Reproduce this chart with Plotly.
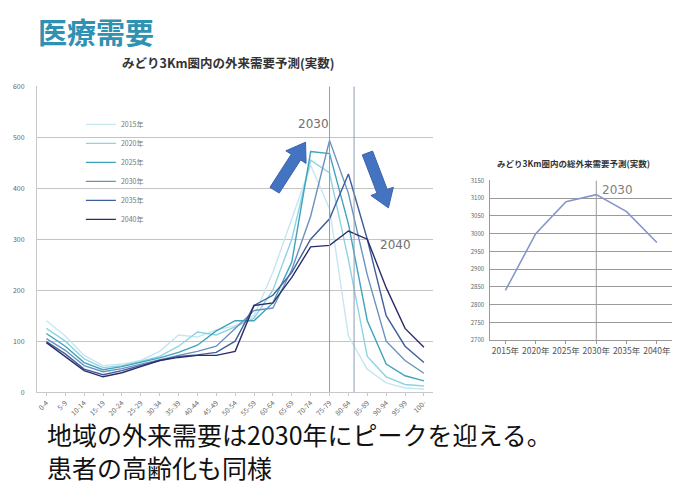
import math
import plotly.graph_objects as go

W, H = 677, 498

# Age bands (5-year) for the outpatient demand projection
ages = ["0-4", "5-9", "10-14", "15-19", "20-24", "25-29", "30-34", "35-39",
        "40-44", "45-49", "50-54", "55-59", "60-64", "65-69", "70-74",
        "75-79", "80-84", "85-89", "90-94", "95-99", "100-"]

years = ["2015年", "2020年", "2025年", "2030年", "2035年", "2040年"]

demand_2015 = [140, 110, 72, 52, 55, 62, 80, 112, 108, 122, 130, 150, 235, 340, 445, 360, 110, 45, 18, 8, 6]
demand_2020 = [125, 100, 65, 48, 52, 60, 70, 90, 118, 112, 128, 145, 200, 300, 455, 430, 260, 70, 30, 15, 12]
demand_2025 = [115, 90, 58, 44, 50, 58, 67, 78, 92, 120, 140, 140, 175, 255, 472, 468, 330, 140, 55, 32, 22]
demand_2030 = [105, 82, 52, 40, 46, 55, 64, 72, 80, 90, 125, 160, 165, 240, 345, 494, 390, 230, 100, 62, 37]
demand_2035 = [99, 75, 45, 34, 42, 52, 62, 70, 73, 78, 100, 170, 190, 235, 300, 340, 428, 300, 150, 90, 58]
demand_2040 = [97, 70, 42, 30, 38, 50, 62, 68, 72, 72, 80, 170, 175, 225, 285, 288, 316, 300, 205, 125, 88]

series = [demand_2015, demand_2020, demand_2025, demand_2030, demand_2035, demand_2040]
colors = ["#c6e6f0", "#8fd3e3", "#3fa3bd", "#6a92bd", "#3f5f9c", "#2a2c6b"]

# Total outpatient demand by projection year
total_years = ["2015年", "2020年", "2025年", "2030年", "2035年", "2040年"]
total_demand = [2840, 3000, 3090, 3110, 3062, 2975]

main_ticks = [0, 100, 200, 300, 400, 500, 600]
side_ticks = [2700, 2750, 2800, 2850, 2900, 2950, 3000, 3050, 3100, 3150]


def px(x):
    return x / W


def py(y):
    return 1 - y / H


fig = go.Figure()

for name, vals, col in zip(years, series, colors):
    fig.add_trace(go.Scatter(
        x=list(range(len(ages))), y=vals, name=name, mode="lines",
        line=dict(color=col, width=1.4), xaxis="x", yaxis="y",
    ))

fig.add_trace(go.Scatter(
    x=list(range(len(total_years))), y=total_demand, mode="lines",
    line=dict(color="#8596cc", width=1.6), xaxis="x2", yaxis="y2",
    showlegend=False,
))

tick_font = dict(family="Noto Sans CJK JP", size=7, color="#666666")

fig.update_layout(
    width=W, height=H,
    margin=dict(l=0, r=0, t=0, b=0),
    paper_bgcolor="white", plot_bgcolor="white",
    showlegend=True,
    legend=dict(
        x=px(80), y=py(106), xanchor="left", yanchor="top",
        font=dict(family="Noto Sans CJK JP", size=7, color="#777777"),
        bgcolor="rgba(0,0,0,0)", itemwidth=30, tracegroupgap=0,
    ),
    xaxis=dict(
        domain=[px(36), px(433)], range=[-0.5, len(ages) - 0.5],
        tickmode="array", tickvals=list(range(len(ages))), ticktext=ages,
        tickangle=-45, tickfont=tick_font, showgrid=False, zeroline=False,
        showline=True, linecolor="#c8c8c8", ticks="outside", ticklen=3,
        tickcolor="#c8c8c8", anchor="y",
    ),
    yaxis=dict(
        domain=[py(394), py(82)], range=[0, 600], tickvals=main_ticks,
        tickfont=tick_font, showgrid=True, gridcolor="#c4c4c4", gridwidth=1,
        zeroline=False, showline=True, linecolor="#c8c8c8",
        ticklabelstandoff=10, anchor="x",
    ),
    xaxis2=dict(
        domain=[px(490), px(672)], range=[-0.5, len(total_years) - 0.5],
        tickmode="array", tickvals=list(range(len(total_years))), ticktext=total_years,
        tickfont=dict(family="Noto Sans CJK JP", size=8.5, color="#555555"),
        showgrid=False, zeroline=False, showline=True, linecolor="#999999",
        ticks="outside", ticklen=3, tickcolor="#999999", anchor="y2",
    ),
    yaxis2=dict(
        domain=[py(341), py(178)], range=[2700, 3150], tickvals=side_ticks,
        tickfont=dict(family="Noto Sans CJK JP", size=6, color="#666666"),
        showgrid=True, gridcolor="#9a9a9a", gridwidth=1, zeroline=False,
        showline=True, linecolor="#999999", ticklabelstandoff=4, anchor="x2",
    ),
)

shapes = []
# Reference lines on the age axis
for xv in [15, 16.3]:
    shapes.append(dict(type="line", xref="x", yref="y", x0=xv, x1=xv, y0=0, y1=600,
                       line=dict(color="#8d9db3", width=1)))
# Peak year marker on the total chart
shapes.append(dict(type="line", xref="x2", yref="y2", x0=3, x1=3, y0=2700, y1=3150,
                   line=dict(color="#9a9a9a", width=1)))


def arrow_path(tx, ty, hx, hy, shaft=11, head=24, head_len=18):
    dx, dy = hx - tx, hy - ty
    L = math.hypot(dx, dy)
    ux, uy = dx / L, dy / L
    nx, ny = -uy, ux
    bx, by = hx - ux * head_len, hy - uy * head_len
    pts = [
        (tx + nx * shaft / 2, ty + ny * shaft / 2),
        (bx + nx * shaft / 2, by + ny * shaft / 2),
        (bx + nx * head / 2, by + ny * head / 2),
        (hx, hy),
        (bx - nx * head / 2, by - ny * head / 2),
        (bx - nx * shaft / 2, by - ny * shaft / 2),
        (tx - nx * shaft / 2, ty - ny * shaft / 2),
    ]
    return "M " + " L ".join(f"{px(a):.5f},{py(b):.5f}" for a, b in pts) + " Z"


for t, h in [((274, 188), (305, 139)), ((367, 150), (388, 206))]:
    shapes.append(dict(type="path", xref="paper", yref="paper",
                       path=arrow_path(t[0], t[1], h[0], h[1]),
                       fillcolor="#4473c2", line=dict(color="#3a63aa", width=1)))

fig.update_layout(shapes=shapes)


def note(text, x, y, size, color, family="Noto Sans CJK JP", anchor="center"):
    return dict(text=text, x=px(x), y=py(y), xref="paper", yref="paper",
                xanchor=anchor, yanchor="middle", showarrow=False,
                font=dict(family=family, size=size, color=color))


ann = [
    note("<b>医療需要</b>", 35, 26, 29, "#2f92b3", anchor="left"),
    note("<b>みどり3Km圏内の外来需要予測(実数)</b>", 227, 58, 12.5, "#333333"),
    note("<b>みどり3Km圏内の総外来需要予測(実数)</b>", 573, 160, 8.5, "#333333"),
    note("2030", 313, 120, 12, "#707070", family="DejaVu Sans"),
    note("2040", 395, 244, 12, "#707070", family="DejaVu Sans"),
    note("2030", 617, 188, 12, "#808080", family="DejaVu Sans"),
    note("地域の外来需要は2030年にピークを迎える。", 44, 437, 25, "#111111", anchor="left"),
    note("患者の高齢化も同様", 44, 470, 25, "#111111", anchor="left"),
]
fig.update_layout(annotations=ann)

fig.write_html("out.html")
